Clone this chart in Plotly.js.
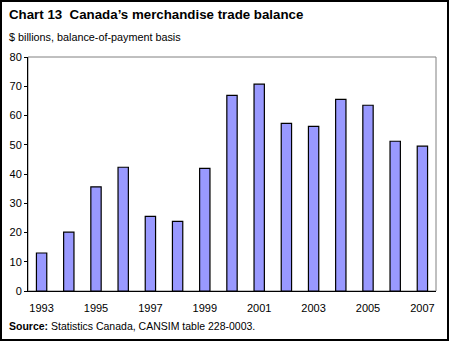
<!DOCTYPE html>
<html>
<head>
<meta charset="utf-8">
<script src="https://cdn.plot.ly/plotly-3.0.1.min.js"></script>
<style>html,body{margin:0;padding:0;background:#fff;}#chart{width:450px;height:341px;}</style>
</head>
<body>
<div id="chart"></div>
<script>
const years = [1993,1994,1995,1996,1997,1998,1999,2000,2001,2002,2003,2004,2005,2006,2007];
const balance = [13.0,20.1,35.6,42.3,25.5,23.8,41.9,66.9,70.7,57.3,56.3,65.5,63.5,51.2,49.5];
const xTickYears = [1993,1995,1997,1999,2001,2003,2005,2007];
const yTicks = [0,10,20,30,40,50,60,70,80];

const W = 450, H = 341;
const M = {l: 28, r: 14, t: 57, b: 50};
const PW = W - M.l - M.r, PH = H - M.t - M.b;
const px = x => (x - M.l) / PW;
const py = y => (H - M.b - y) / PH;

const font = "Arial, 'Liberation Sans', sans-serif";

Plotly.newPlot('chart', [{
  type: 'bar',
  x: years,
  y: balance,
  marker: {color: '#9999ff', line: {color: '#000', width: 1.2}},
  hoverinfo: 'skip'
}], {
  width: W, height: H,
  margin: M,
  paper_bgcolor: '#fff', plot_bgcolor: '#fff',
  bargap: 0.62,
  showlegend: false,
  font: {family: font, size: 11, color: '#000'},
  xaxis: {
    range: [1992.5, 2007.5],
    tickvals: xTickYears,
    ticktext: xTickYears.map(String),
    showgrid: false, zeroline: false,
    showline: true, linecolor: '#000', linewidth: 1,
    ticks: '', ticklabelstandoff: 7,
    tickfont: {family: font, size: 11, color: '#000'},
    fixedrange: true
  },
  yaxis: {
    range: [0, 80],
    tickvals: yTicks,
    showgrid: false, zeroline: false,
    showline: true, linecolor: '#000', linewidth: 1,
    ticks: 'outside', ticklen: 3, tickcolor: '#000', tickwidth: 1,
    tickfont: {family: font, size: 11, color: '#000'},
    fixedrange: true
  },
  shapes: [
    {type: 'rect', xref: 'paper', yref: 'paper', x0: 0, x1: 1, y0: 0, y1: 1,
     line: {color: '#808080', width: 1}, layer: 'below'},
    {type: 'rect', xref: 'paper', yref: 'paper', x0: px(1), x1: px(448), y0: py(340), y1: py(1),
     line: {color: '#000', width: 2}, layer: 'above'}
  ],
  annotations: [
    {xref: 'paper', yref: 'paper', x: px(7), y: py(15), xanchor: 'left', yanchor: 'middle',
     showarrow: false, text: '<b>Chart 13\u00a0 Canada\u2019s merchandise trade balance</b>',
     font: {family: font, size: 13.3, color: '#000'}},
    {xref: 'paper', yref: 'paper', x: px(7), y: py(37), xanchor: 'left', yanchor: 'middle',
     showarrow: false, text: '$ billions, balance-of-payment basis',
     font: {family: font, size: 10.8, color: '#000'}},
    {xref: 'paper', yref: 'paper', x: px(7), y: py(326), xanchor: 'left', yanchor: 'middle',
     showarrow: false, text: '<b>Source:</b> Statistics Canada, CANSIM table 228-0003.',
     font: {family: font, size: 10.5, color: '#000'}}
  ]
}, {displayModeBar: false, staticPlot: true});
</script>
</body>
</html>
